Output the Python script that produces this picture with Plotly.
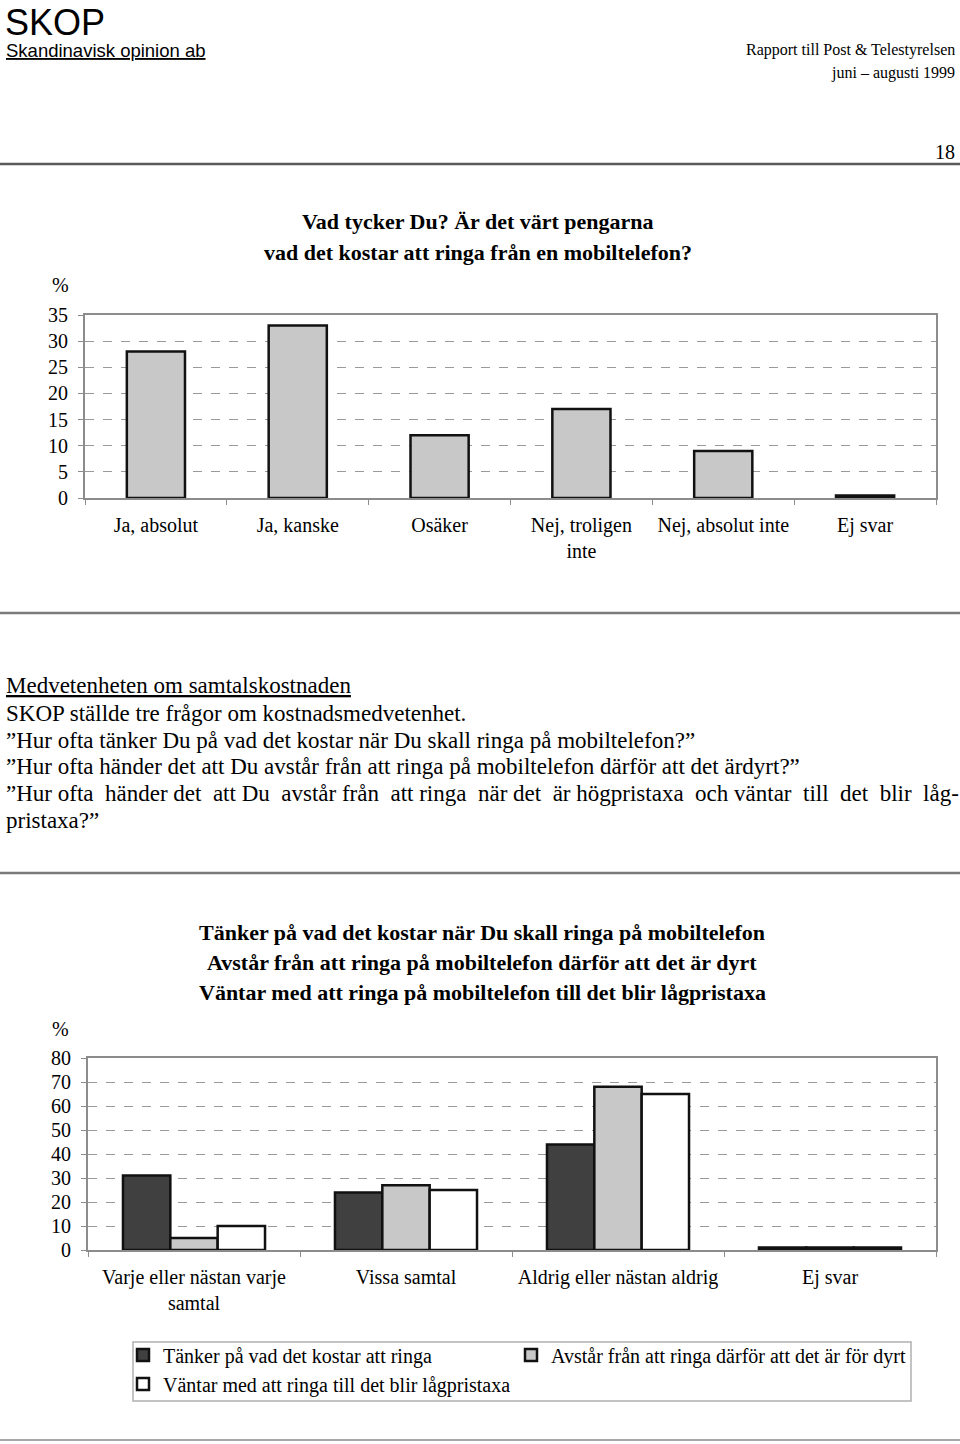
import plotly.graph_objects as go

W, H = 960, 1444
SERIF = "Liberation Serif, Times New Roman, serif"
SANS = "Liberation Sans, Arial, sans-serif"
NB = "\u00a0"


def px(x):
    return x / W


def py(y):
    return 1 - y / H


# ---------------- data ----------------
cat1 = ["Ja, absolut", "Ja, kanske", "Osäker", "Nej, troligen<br>inte", "Nej, absolut inte", "Ej svar"]
val1 = [28, 33, 12, 17, 9, 0.5]
y1_ticks = [0, 5, 10, 15, 20, 25, 30, 35]

cat2 = ["Varje eller nästan varje<br>samtal", "Vissa samtal", "Aldrig eller nästan aldrig", "Ej svar"]
tanker = [31, 24, 44, 1]
avstar = [5, 27, 68, 1]
vantar = [10, 25, 65, 1]
series2_names = ["Tänker på vad det kostar att ringa",
                 "Avstår från att ringa därför att det är för dyrt",
                 "Väntar med att ringa till det blir lågpristaxa"]
series2_colors = ["#404040", "#c8c8c8", "#ffffff"]
y2_ticks = [0, 10, 20, 30, 40, 50, 60, 70, 80]

fig = go.Figure()

fig.add_trace(go.Bar(x=cat1, y=val1, width=0.41, xaxis="x", yaxis="y",
                     marker=dict(color="#c8c8c8", line=dict(color="#111111", width=2.5)),
                     showlegend=False, hoverinfo="x+y"))

legend_ids = ["legend", "legend2", "legend3"]
for name, vals, col, lg in zip(series2_names, [tanker, avstar, vantar], series2_colors, legend_ids):
    fig.add_trace(go.Bar(x=cat2, y=vals, name=name, xaxis="x2", yaxis="y2", legend=lg,
                         marker=dict(color=col, line=dict(color="#111111", width=2.5))))

axis_common = dict(showline=True, linecolor="#8c8c8c", linewidth=2, mirror=True,
                   ticks="outside", ticklen=5, tickcolor="#8c8c8c",
                   tickfont=dict(family=SERIF, size=20, color="#000"))


def legend_at(x, y):
    return dict(x=px(x), y=py(y), xanchor="left", yanchor="middle",
                bgcolor="rgba(0,0,0,0)", borderwidth=0,
                font=dict(family=SERIF, size=20, color="#000"))


fig.update_layout(
    width=W, height=H,
    margin=dict(l=0, r=0, t=0, b=0, autoexpand=False),
    paper_bgcolor="white", plot_bgcolor="white",
    barmode="group", bargap=0.33, bargroupgap=0,
    font=dict(family=SERIF, size=20, color="#000"),
    xaxis=dict(domain=[px(85), px(936)], anchor="y", type="category",
               tickson="boundaries", showgrid=False, ticklabelstandoff=8, **axis_common),
    yaxis=dict(domain=[py(498), py(315)], anchor="x", range=[0, 35], tickvals=y1_ticks,
               showgrid=True, gridcolor="#9a9a9a", gridwidth=1, griddash="dash",
               zeroline=False, ticklabelstandoff=6, **axis_common),
    xaxis2=dict(domain=[px(88), px(936)], anchor="y2", type="category",
                tickson="boundaries", showgrid=False, ticklabelstandoff=8, **axis_common),
    yaxis2=dict(domain=[py(1250), py(1058)], anchor="x2", range=[0, 80], tickvals=y2_ticks,
                showgrid=True, gridcolor="#9a9a9a", gridwidth=1, griddash="dash",
                zeroline=False, ticklabelstandoff=6, **axis_common),
    legend=legend_at(123, 1355),
    legend2=legend_at(511, 1355),
    legend3=legend_at(123, 1384),
)

ann = []


def text(x, y, s, size, family=SERIF, xanchor="left", color="#000", yanchor="middle"):
    ann.append(dict(x=px(x), y=py(y), xref="paper", yref="paper", text=s, showarrow=False,
                    xanchor=xanchor, yanchor=yanchor, align="center" if xanchor == "center" else xanchor,
                    font=dict(family=family, size=size, color=color)))


# header
text(3, 0, "SKOP", 36, SANS, yanchor="top")
text(4, 50, "<u>Skandinavisk opinion ab</u>", 18.5, SANS)
text(957, 50, "Rapport till Post &amp; Telestyrelsen", 16, SERIF, "right")
text(957, 73, "juni – augusti 1999", 16, SERIF, "right")
text(957, 152, "18", 20, SERIF, "right")

# chart 1
text(478, 222, "<b>Vad tycker Du? Är det värt pengarna</b>", 22, SERIF, "center")
text(478, 252, "<b>vad det kostar att ringa från en mobiltelefon?</b>", 22, SERIF, "center")
text(60, 285, "%", 20, SERIF, "center")

# body text
words3 = "”Hur ofta händer det att Du avstår från att ringa när det är högpristaxa och väntar till det blir låg-".split(" ")
line3 = ""
for i, wd in enumerate(words3):
    if i > 0:
        line3 += " " + (NB if i % 2 == 0 or i > 16 else "")
    line3 += wd

text(4, 685, "<u>Medvetenheten om samtalskostnaden</u>", 23)
text(4, 713, "SKOP ställde tre frågor om kostnadsmedvetenhet.", 23)
text(4, 740, "”Hur ofta tänker Du på vad det kostar när Du skall ringa på mobiltelefon?”", 23)
text(4, 766, "”Hur ofta händer det att Du avstår från att ringa på mobiltelefon därför att det ärdyrt?”", 23)
text(4, 793, line3, 23)
text(4, 820, "pristaxa?”", 23)

# chart 2
text(482, 932, "<b>Tänker på vad det kostar när Du skall ringa på mobiltelefon</b>", 22, SERIF, "center")
text(482, 962, "<b>Avstår från att ringa på mobiltelefon därför att det är dyrt</b>", 22, SERIF, "center")
text(482, 992, "<b>Väntar med att ringa på mobiltelefon till det blir lågpristaxa</b>", 22, SERIF, "center")
text(60, 1029, "%", 20, SERIF, "center")

fig.update_layout(annotations=ann)

shapes = []
for yy, col, w in [(164, "#5a5a5a", 2.5), (613, "#7a7a7a", 2.5), (873, "#7a7a7a", 2.5), (1440, "#a8a8a8", 2)]:
    shapes.append(dict(type="line", xref="paper", yref="paper", x0=0, x1=1, y0=py(yy), y1=py(yy),
                       line=dict(color=col, width=w)))
# legend frame
shapes.append(dict(type="rect", xref="paper", yref="paper", x0=px(133), x1=px(911),
                   y0=py(1401), y1=py(1342), line=dict(color="#b0b0b0", width=1.5),
                   fillcolor="rgba(0,0,0,0)", layer="below"))
fig.update_layout(shapes=shapes)

fig.write_html("out.html")
